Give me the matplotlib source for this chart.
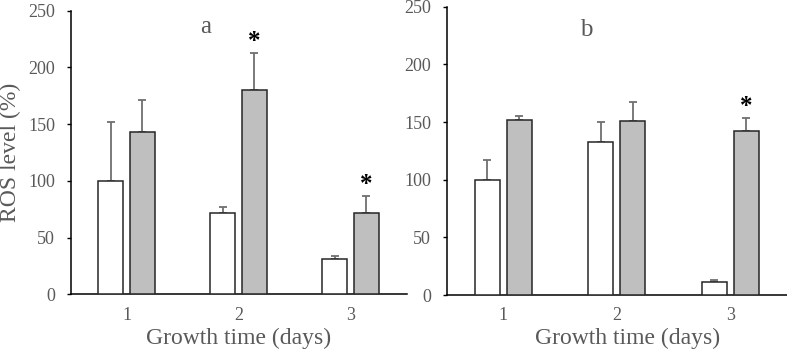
import matplotlib
matplotlib.use("Agg")
import matplotlib.pyplot as plt
import numpy as np

plt.rcParams['font.family'] = ['Liberation Serif', 'DejaVu Serif']

days = ["1", "2", "3"]

a_ctrl = [100, 72, 31]
a_ctrl_err = [52, 5, 3]
a_trt = [143, 180, 72]
a_trt_err = [28.5, 33, 14.5]
a_sig = [False, True, True]

b_ctrl = [100, 133, 11]
b_ctrl_err = [17, 17, 2]
b_trt = [151.5, 151, 142.5]
b_trt_err = [4, 16, 11]
b_sig = [False, False, True]

panel_labels = ["a", "b"]
ylabel = "ROS level (%)"
xlabel = "Growth time (days)"
yticks = [0, 50, 100, 150, 200, 250]

TXT = "#595959"
EDGE = "#262626"
ERR = "#707070"
GREY = "#bfbfbf"

fig = plt.figure(figsize=(7.87, 3.49), dpi=100)
ax1 = fig.add_axes([70.5/787, 54.7/349, 336/787, 283.6/349])
ax2 = fig.add_axes([446.5/787, 54.0/349, 340.5/787, 288.3/349])

def draw(ax, ctrl, cerr, trt, terr, sig, label, label_xy, xlab_x, xlab_y):
    x = np.arange(len(days))
    off = 0.142
    w = 0.218
    ax.bar(x - off, ctrl, w, color="white", edgecolor=EDGE, linewidth=1.1, zorder=3)
    ax.bar(x + off, trt, w, color=GREY, edgecolor=EDGE, linewidth=1.1, zorder=3)
    ax.errorbar(x - off, ctrl, yerr=[np.zeros(len(ctrl)), cerr], fmt="none",
                ecolor=ERR, elinewidth=1.3, capsize=2.9, capthick=1.3, zorder=2)
    ax.errorbar(x + off, trt, yerr=[np.zeros(len(trt)), terr], fmt="none",
                ecolor=ERR, elinewidth=1.3, capsize=2.9, capthick=1.3, zorder=2)
    for i, s in enumerate(sig):
        if s:
            ax.text(x[i] + off, trt[i] + terr[i] + 10, "*", ha="center", va="center",
                    fontsize=18, fontweight="bold", color="black")
    ax.set_xlim(-0.5, 2.5)
    ax.set_ylim(0, 250)
    ax.set_yticks(yticks)
    ax.set_xticks(x)
    ax.set_xticklabels(days)
    for sp in ["top", "right"]:
        ax.spines[sp].set_visible(False)
    for sp in ["left", "bottom"]:
        ax.spines[sp].set_color("black")
        ax.spines[sp].set_linewidth(1.1)
    ax.tick_params(axis="y", length=3, width=1.0, color="black", labelsize=13,
                   labelcolor=TXT, pad=8)
    ax.tick_params(axis="x", length=0, labelsize=13, labelcolor=TXT, pad=9)
    ax.text(label_xy[0], label_xy[1], label, ha="center", va="center",
            fontsize=18, color=TXT)
    ax.set_xlabel(xlabel, fontsize=17, color=TXT)
    ax.xaxis.set_label_coords(xlab_x, xlab_y)
    ax.xaxis.label.set_va("center")

draw(ax1, a_ctrl, a_ctrl_err, a_trt, a_trt_err, a_sig, panel_labels[0], (0.706, 236),
     0.5, -44.0/283.6)
draw(ax2, b_ctrl, b_ctrl_err, b_trt, b_trt_err, b_sig, panel_labels[1], (0.73, 230),
     0.533, -43.3/288.3)

ax1.set_ylabel(ylabel, fontsize=17, color=TXT)
ax1.yaxis.set_label_coords(-60/336, 0.5)
ax1.yaxis.label.set_va("center")

fig.savefig("out.png", dpi=100)
